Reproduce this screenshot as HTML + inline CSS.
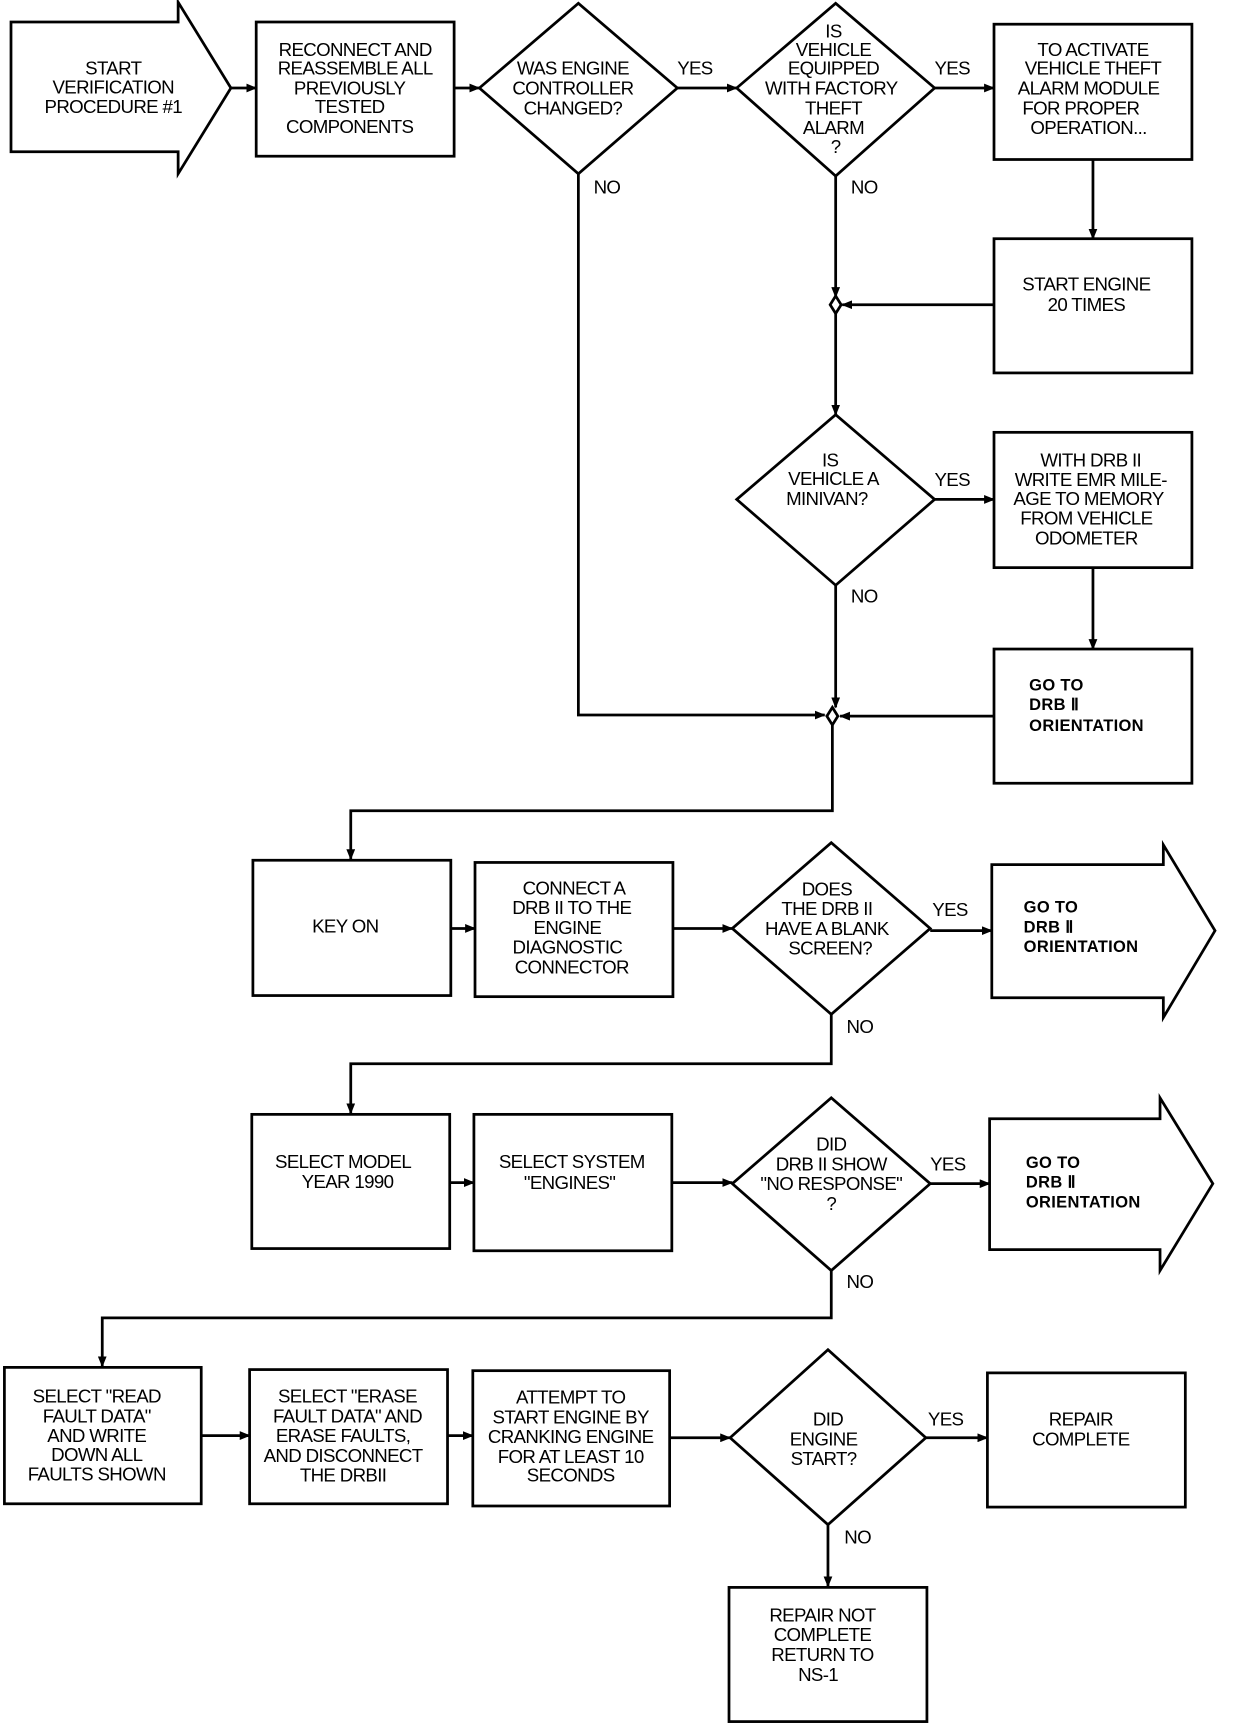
<!DOCTYPE html>
<html><head><meta charset="utf-8"><style>
html,body{margin:0;padding:0;background:#fff;}
svg{display:block;}
text{font-family:"Liberation Sans",sans-serif;font-size:17px;fill:#000;text-anchor:middle;dominant-baseline:central;letter-spacing:-0.6px;}
.l{text-anchor:start;font-weight:bold;font-size:15px;letter-spacing:0.3px;}
.s{fill:none;stroke:#000;stroke-width:2.5;}
.w{fill:#fff;stroke:#000;stroke-width:2.5;}
</style></head><body>
<svg width="1248" height="1726" viewBox="0 0 1135 1569" preserveAspectRatio="none" xmlns="http://www.w3.org/2000/svg">
<defs><marker id="a" markerWidth="10" markerHeight="8" refX="9" refY="4" orient="auto" markerUnits="userSpaceOnUse"><path d="M0,0 L10,4 L0,8 z" fill="#000"/></marker></defs>

<!-- connectors -->
<g class="s" marker-end="url(#a)">
<path d="M210,80 H233"/>
<path d="M413,80 H436"/>
<path d="M616,80 H670"/>
<path d="M850,80 H904"/>
<path d="M994,145 V217"/>
<path d="M760,160 V270"/>
<path d="M904,277 H766"/>
<path d="M760,285 V377"/>
<path d="M850,454 H904"/>
<path d="M994,516 V590"/>
<path d="M760,532 V643"/>
<path d="M904,651 H764"/>
<path d="M526,158 V650 H750"/>
<path d="M757,659 V737 H319 V781"/>
<path d="M410,844 H432"/>
<path d="M612,844 H666"/>
<path d="M846,846 H902"/>
<path d="M756,922 V967 H319 V1012"/>
<path d="M409,1075 H431"/>
<path d="M611,1075 H666"/>
<path d="M846,1076 H900"/>
<path d="M756,1155 V1198 H93 V1242"/>
<path d="M183,1305 H227"/>
<path d="M407,1305 H430"/>
<path d="M609,1307 H664"/>
<path d="M842,1307 H898"/>
<path d="M753,1386 V1442"/>
</g>
<path class="w" d="M760,269 L765,277 L760,285 L755,277 Z"/>
<path class="w" d="M757,643 L762,651 L757,659 L752,651 Z"/>

<!-- shapes -->
<polygon class="w" points="10,20 162,20 162,2 210,80 162,158 162,138 10,138"/>
<rect class="w" x="233" y="20" width="180" height="122"/>
<polygon class="w" points="436,80 526,3 616,80 526,158"/>
<polygon class="w" points="670,80 760,3 850,80 760,160"/>
<rect class="w" x="904" y="22" width="180" height="123"/>
<rect class="w" x="904" y="217" width="180" height="122"/>
<polygon class="w" points="670,454 760,377 850,454 760,532"/>
<rect class="w" x="904" y="393" width="180" height="123"/>
<rect class="w" x="904" y="590" width="180" height="122"/>
<rect class="w" x="230" y="782" width="180" height="123"/>
<rect class="w" x="432" y="784" width="180" height="122"/>
<polygon class="w" points="666,844 756,766 846,844 756,922"/>
<polygon class="w" points="902,786 1058,786 1058,768 1105,846 1058,925 1058,907 902,907"/>
<rect class="w" x="229" y="1013" width="180" height="122"/>
<rect class="w" x="431" y="1013" width="180" height="124"/>
<polygon class="w" points="666,1076 756,998 846,1076 756,1155"/>
<polygon class="w" points="900,1017 1055,1017 1055,998 1103,1076 1055,1155 1055,1136 900,1136"/>
<rect class="w" x="4" y="1243" width="179" height="124"/>
<rect class="w" x="227" y="1245" width="180" height="122"/>
<rect class="w" x="430" y="1246" width="179" height="123"/>
<polygon class="w" points="664,1307 753,1227 842,1307 753,1386"/>
<rect class="w" x="898" y="1248" width="180" height="122"/>
<rect class="w" x="663" y="1443" width="180" height="122"/>

<!-- labels -->
<text x="632" y="62">YES</text><text x="552" y="170">NO</text>
<text x="866" y="62">YES</text><text x="786" y="170">NO</text>
<text x="866" y="436">YES</text><text x="786" y="542">NO</text>
<text x="864" y="827">YES</text><text x="782" y="933">NO</text>
<text x="862" y="1058">YES</text><text x="782" y="1165">NO</text>
<text x="860" y="1290">YES</text><text x="780" y="1397">NO</text>

<!-- text -->
<text x="103" y="62">START</text><text x="103" y="79">VERIFICATION</text><text x="103" y="97">PROCEDURE #1</text>
<text x="323" y="45">RECONNECT AND</text><text x="323" y="62">REASSEMBLE ALL</text><text x="318" y="80">PREVIOUSLY</text><text x="318" y="97">TESTED</text><text x="318" y="115">COMPONENTS</text>
<text x="521" y="62">WAS ENGINE</text><text x="521" y="80">CONTROLLER</text><text x="521" y="98">CHANGED?</text>
<text x="758" y="28">IS</text><text x="758" y="45">VEHICLE</text><text x="758" y="62">EQUIPPED</text><text x="756" y="80">WITH FACTORY</text><text x="758" y="98">THEFT</text><text x="758" y="116">ALARM</text><text x="760" y="133">?</text>
<text x="994" y="45">TO ACTIVATE</text><text x="994" y="62">VEHICLE THEFT</text><text x="990" y="80">ALARM MODULE</text><text x="983" y="98">FOR PROPER</text><text x="990" y="116">OPERATION...</text>
<text x="988" y="258">START ENGINE</text><text x="988" y="277">20 TIMES</text>
<text x="755" y="418">IS</text><text x="758" y="435">VEHICLE A</text><text x="752" y="453">MINIVAN?</text>
<text x="992" y="418">WITH DRB II</text><text x="992" y="436">WRITE EMR MILE-</text><text x="990" y="453">AGE TO MEMORY</text><text x="988" y="471">FROM VEHICLE</text><text x="988" y="489">ODOMETER</text>
<text class="l" x="936" y="623">GO TO</text><text class="l" x="936" y="641">DRB Ⅱ</text><text class="l" x="936" y="660">ORIENTATION</text>
<text x="314" y="842">KEY ON</text>
<text x="522" y="807">CONNECT A</text><text x="520" y="825">DRB II TO THE</text><text x="516" y="843">ENGINE</text><text x="516" y="861">DIAGNOSTIC</text><text x="520" y="879">CONNECTOR</text>
<text x="752" y="808">DOES</text><text x="752" y="826">THE DRB II</text><text x="752" y="844">HAVE A BLANK</text><text x="755" y="862">SCREEN?</text>
<text class="l" x="931" y="825">GO TO</text><text class="l" x="931" y="843">DRB Ⅱ</text><text class="l" x="931" y="861">ORIENTATION</text>
<text x="312" y="1056">SELECT MODEL</text><text x="316" y="1074">YEAR 1990</text>
<text x="520" y="1056">SELECT SYSTEM</text><text x="518" y="1075">"ENGINES"</text>
<text x="756" y="1040">DID</text><text x="756" y="1058">DRB II SHOW</text><text x="756" y="1076">"NO RESPONSE"</text><text x="756" y="1094">?</text>
<text class="l" x="933" y="1057">GO TO</text><text class="l" x="933" y="1075">DRB Ⅱ</text><text class="l" x="933" y="1093">ORIENTATION</text>
<text x="88" y="1269">SELECT "READ</text><text x="88" y="1287">FAULT DATA"</text><text x="88" y="1305">AND WRITE</text><text x="88" y="1322">DOWN ALL</text><text x="88" y="1340">FAULTS SHOWN</text>
<text x="316" y="1269">SELECT "ERASE</text><text x="316" y="1287">FAULT DATA" AND</text><text x="312" y="1305">ERASE FAULTS,</text><text x="312" y="1323">AND DISCONNECT</text><text x="312" y="1341">THE DRBII</text>
<text x="519" y="1270">ATTEMPT TO</text><text x="519" y="1288">START ENGINE BY</text><text x="519" y="1306">CRANKING ENGINE</text><text x="519" y="1324">FOR AT LEAST 10</text><text x="519" y="1341">SECONDS</text>
<text x="753" y="1290">DID</text><text x="749" y="1308">ENGINE</text><text x="749" y="1326">START?</text>
<text x="983" y="1290">REPAIR</text><text x="983" y="1308">COMPLETE</text>
<text x="748" y="1468">REPAIR NOT</text><text x="748" y="1486">COMPLETE</text><text x="748" y="1504">RETURN TO</text><text x="744" y="1522">NS-1</text>
</svg>
</body></html>
